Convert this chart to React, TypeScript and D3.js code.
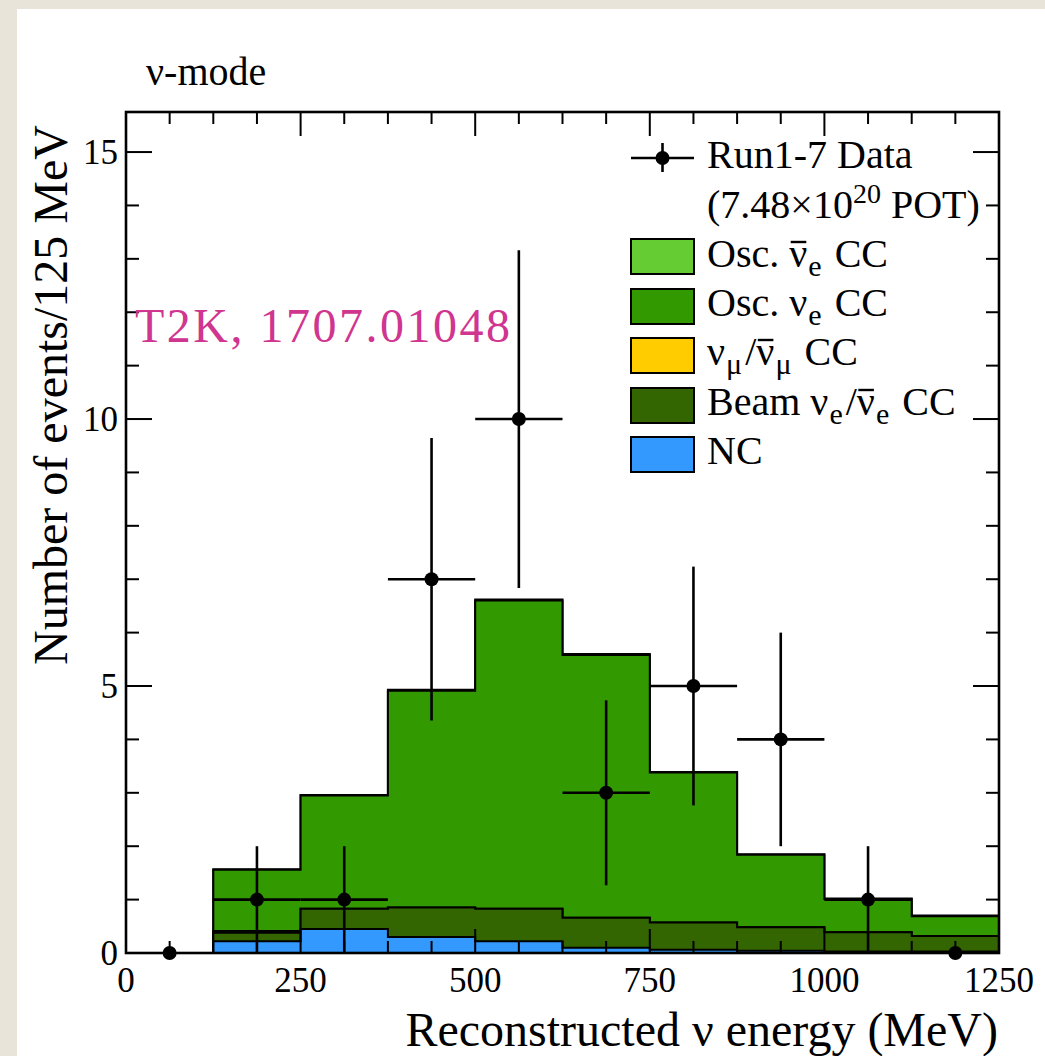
import React, { useLayoutEffect, useRef, useState } from "react";
import * as d3 from "d3";

// ---------- data ----------
const binLow = [0, 125, 250, 375, 500, 625, 750, 875, 1000, 1125];
const binWidth = 125;
const ncValues = [0, 0.22, 0.45, 0.3, 0.22, 0.1, 0.06, 0.04, 0.03, 0.03];
const beamNueValues = [0, 0.16, 0.38, 0.55, 0.61, 0.56, 0.51, 0.44, 0.36, 0.29];
const numuValues = [0, 0.03, 0, 0, 0, 0, 0, 0, 0, 0];
const oscNueValues = [0, 1.15, 2.12, 4.06, 5.77, 4.92, 2.81, 1.36, 0.62, 0.37];
const oscAntiNueValues = [0, 0.01, 0.01, 0.02, 0.02, 0.02, 0.01, 0.01, 0.01, 0.01];
const dataCounts = [0, 1, 1, 7, 10, 3, 5, 4, 1, 0];

const xMajorTicks = [0, 250, 500, 750, 1000, 1250];
const yMajorTicks = [0, 5, 10, 15];

const layers = [
  { name: "NC", values: ncValues, color: "#3399ff" },
  { name: "Beam", values: beamNueValues, color: "#336600" },
  { name: "numu", values: numuValues, color: "#ffcc00" },
  { name: "OscNue", values: oscNueValues, color: "#339900" },
  { name: "OscAntiNue", values: oscAntiNueValues, color: "#66cc33" },
];

const FONT = "'Liberation Serif', 'Times New Roman', serif";

// which legend text (by index) has an overlined ν at which character index
const overlineSpecs = [
  { t: 0, c: 5 },
  { t: 1, c: 3 },
  { t: 2, c: 8 },
];

export default function App() {
  const W = 1045, H = 1056;
  const x = d3.scaleLinear().domain([0, 1250]).range([126, 999]);
  const y = d3.scaleLinear().domain([0, 15.75]).range([953, 112]);

  const textRefs = useRef<(SVGTextElement | null)[]>([]);
  const [bars, setBars] = useState<{ x1: number; x2: number; y: number }[]>([]);

  useLayoutEffect(() => {
    const out: { x1: number; x2: number; y: number }[] = [];
    overlineSpecs.forEach((s) => {
      const el = textRefs.current[s.t];
      if (!el) return;
      try {
        const ext = el.getExtentOfChar(s.c);
        const base = Number(el.getAttribute("y"));
        out.push({ x1: ext.x + 1.5, x2: ext.x + ext.width - 1, y: base - 25 });
      } catch (e) {
        /* ignore */
      }
    });
    setBars(out);
  }, []);

  const cum: number[][] = [];
  layers.forEach((l, i) => {
    cum.push(l.values.map((v, j) => v + (i > 0 ? cum[i - 1][j] : 0)));
  });

  const stepPath = (vals: number[]) => {
    let p = `M${x(0)},${y(0)}`;
    vals.forEach((v, j) => {
      p += `L${x(binLow[j])},${y(v)}L${x(binLow[j] + binWidth)},${y(v)}`;
    });
    p += `L${x(1250)},${y(0)}Z`;
    return p;
  };

  const xMinor = d3.range(0, 1250.01, 62.5);
  const yMinor = d3.range(0, 15.01, 1);

  const legendRows = [
    { color: "#66cc33", y: 239 },
    { color: "#339900", y: 289 },
    { color: "#ffcc00", y: 338 },
    { color: "#336600", y: 388 },
    { color: "#3399ff", y: 437 },
  ];
  const lx = 707;
  const subDy = 9;
  const LF = 40;
  const SF = 30;
  const gap = 3;

  return (
    <svg
      width={W}
      height={H}
      style={{ position: "absolute", left: 0, top: 0, fontFamily: FONT }}
    >
      <rect x={0} y={0} width={W} height={H} fill="#e8e4d9" />
      <rect x={17} y={9} width={W - 17} height={H - 9} fill="#ffffff" />

      {cum
        .map((c, i) => (
          <path
            key={layers[i].name}
            d={stepPath(c)}
            fill={layers[i].color}
            stroke="#000"
            strokeWidth={2}
          />
        ))
        .reverse()}

      {dataCounts.map((n, j) => {
        const cx = x(binLow[j] + binWidth / 2);
        const cy = y(n);
        const err = Math.sqrt(n);
        return (
          <g key={j}>
            {n > 0 && (
              <>
                <line x1={x(binLow[j])} x2={x(binLow[j] + binWidth)} y1={cy} y2={cy} stroke="#000" strokeWidth={2.6} />
                <line x1={cx} x2={cx} y1={y(n + err)} y2={y(n - err)} stroke="#000" strokeWidth={2.6} />
              </>
            )}
            <circle cx={cx} cy={cy} r={7} fill="#000" />
          </g>
        );
      })}

      {xMinor.map((t) => {
        const major = xMajorTicks.includes(t);
        const len = major ? 24 : 12;
        return (
          <g key={"xt" + t}>
            <line x1={x(t)} x2={x(t)} y1={y(0)} y2={y(0) - len} stroke="#000" strokeWidth={2} />
            <line x1={x(t)} x2={x(t)} y1={y(15.75)} y2={y(15.75) + len} stroke="#000" strokeWidth={2} />
          </g>
        );
      })}
      {yMinor.map((t) => {
        const major = yMajorTicks.includes(t);
        const len = major ? 26 : 13;
        return (
          <g key={"yt" + t}>
            <line x1={x(0)} x2={x(0) + len} y1={y(t)} y2={y(t)} stroke="#000" strokeWidth={2} />
            <line x1={x(1250)} x2={x(1250) - len} y1={y(t)} y2={y(t)} stroke="#000" strokeWidth={2} />
          </g>
        );
      })}
      <rect x={x(0)} y={y(15.75)} width={x(1250) - x(0)} height={y(0) - y(15.75)} fill="none" stroke="#000" strokeWidth={2.6} />

      {xMajorTicks.map((t) => (
        <text key={"xl" + t} x={x(t)} y={992} fontSize={35} textAnchor="middle" fill="#000">
          {t}
        </text>
      ))}
      {yMajorTicks.map((t) => (
        <text key={"yl" + t} x={118} y={y(t) + 12} fontSize={35} textAnchor="end" fill="#000">
          {t}
        </text>
      ))}

      <text x={998} y={1046} fontSize={48} textAnchor="end" fill="#000">
        Reconstructed ν energy (MeV)
      </text>
      <text transform="translate(67,395) rotate(-90)" fontSize={48} textAnchor="middle" fill="#000">
        Number of events/125 MeV
      </text>
      <text x={146} y={85} fontSize={40} fill="#000">ν-mode</text>

      <text x={135} y={342} fontSize={48} fill="#d0358f" textLength={375} lengthAdjust="spacing">
        T2K, 1707.01048
      </text>

      {/* legend */}
      <line x1={631} x2={694} y1={158} y2={158} stroke="#000" strokeWidth={2.6} />
      <line x1={662.5} x2={662.5} y1={143} y2={172} stroke="#000" strokeWidth={2.6} />
      <circle cx={662.5} cy={158} r={7} fill="#000" />
      <text x={lx} y={168} fontSize={LF} fill="#000">Run1-7 Data</text>
      <text x={lx} y={218} fontSize={LF} fill="#000">
        (7.48×10<tspan dy={-15} fontSize={28}>20</tspan><tspan dy={15}> POT)</tspan>
      </text>
      {legendRows.map((r) => (
        <rect key={r.color} x={631} y={r.y} width={63} height={35} fill={r.color} stroke="#000" strokeWidth={2} />
      ))}
      <text ref={(el) => { textRefs.current[0] = el; }} x={lx} y={267} fontSize={LF} fill="#000">
        {"Osc. ν"}
        <tspan dy={subDy} dx={1} fontSize={SF}>e</tspan>
        <tspan dy={-subDy} dx={gap}>{" CC"}</tspan>
      </text>
      <text x={lx} y={316} fontSize={LF} fill="#000">
        {"Osc. ν"}
        <tspan dy={subDy} dx={1} fontSize={SF}>e</tspan>
        <tspan dy={-subDy} dx={gap}>{" CC"}</tspan>
      </text>
      <text ref={(el) => { textRefs.current[1] = el; }} x={lx} y={365} fontSize={LF} fill="#000">
        {"ν"}
        <tspan dy={subDy} dx={1} fontSize={SF}>μ</tspan>
        <tspan dy={-subDy} dx={gap}>{"/ν"}</tspan>
        <tspan dy={subDy} dx={1} fontSize={SF}>μ</tspan>
        <tspan dy={-subDy} dx={gap}>{" CC"}</tspan>
      </text>
      <text ref={(el) => { textRefs.current[2] = el; }} x={lx} y={415} fontSize={LF} fill="#000">
        {"Beam ν"}
        <tspan dy={subDy} dx={1} fontSize={SF}>e</tspan>
        <tspan dy={-subDy} dx={gap}>{"/ν"}</tspan>
        <tspan dy={subDy} dx={1} fontSize={SF}>e</tspan>
        <tspan dy={-subDy} dx={gap}>{" CC"}</tspan>
      </text>
      <text x={lx} y={464} fontSize={LF} fill="#000">NC</text>
      {bars.map((b, i) => (
        <line key={"ol" + i} x1={b.x1} x2={b.x2} y1={b.y} y2={b.y} stroke="#000" strokeWidth={2.4} />
      ))}
    </svg>
  );
}
